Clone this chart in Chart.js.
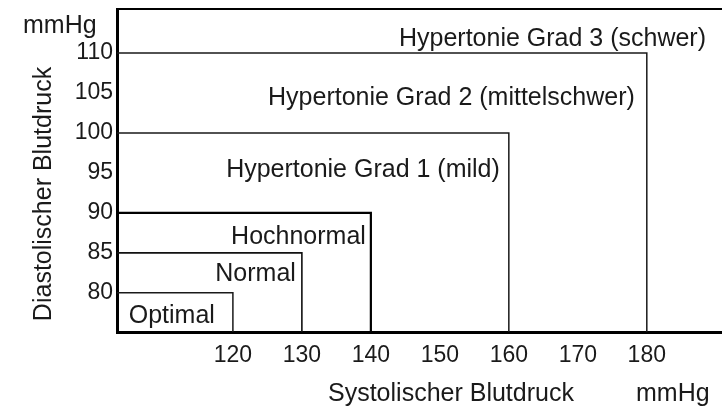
<!DOCTYPE html>
<html>
<head>
<meta charset="utf-8">
<script src="https://cdn.jsdelivr.net/npm/chart.js@4.4.1/dist/chart.umd.min.js"></script>
<style>
  html, body { margin: 0; padding: 0; background: #fff; }
  #wrap { width: 722px; height: 411px; position: relative; }
</style>
</head>
<body>
<div id="wrap"><canvas id="bpChart"></canvas></div>
<script>
// blood pressure classes (upper limits of each class)
const categories = ["Optimal", "Normal", "Hochnormal", "Hypertonie Grad 1 (mild)", "Hypertonie Grad 2 (mittelschwer)", "Hypertonie Grad 3 (schwer)"];
const systolicLimits = [120, 130, 140, 160, 180];
const diastolicLimits = [80, 85, 90, 100, 110];
const xTicks = [120, 130, 140, 150, 160, 170, 180];
const yTicks = [80, 85, 90, 95, 100, 105, 110];

const X_MIN = 103.2, X_MAX = 190.9;
const Y_MIN = 75.1, Y_MAX = 115.5;

const lineColors = ["#1a1a1a", "#111", "#000", "#1a1a1a", "#1a1a1a"];
const lineWidths = [1.5, 1.6, 2.2, 1.5, 1.5];
// text placement inside each region: gap to the right border, vertical nudge
const labelInset = [18, 6, 5, 9, 12, 16];
const labelNudge = [4, 1, 4, -3, 5, 8];
const FONT = "'Liberation Sans', Arial, sans-serif";
const TEXT = "#1a1a1a";

// each class is drawn as a corner line: along the diastolic limit, then down the systolic limit
const datasets = systolicLimits.map((sys, i) => ({
  label: categories[i],
  data: [
    { x: X_MIN, y: diastolicLimits[i] },
    { x: sys, y: diastolicLimits[i] },
    { x: sys, y: Y_MIN }
  ],
  showLine: true,
  borderColor: lineColors[i],
  borderWidth: lineWidths[i],
  pointRadius: 0,
  fill: false
}));

const labelsPlugin = {
  id: "bpLabels",
  afterDatasetsDraw(chart) {
    const { ctx, chartArea, scales } = chart;
    const xs = scales.x, ys = scales.y;
    ctx.save();
    ctx.fillStyle = TEXT;
    ctx.font = "25px " + FONT;

    // frame top line
    ctx.strokeStyle = "#000";
    ctx.lineWidth = 2;
    ctx.beginPath();
    ctx.moveTo(chartArea.left, chartArea.top);
    ctx.lineTo(chartArea.right, chartArea.top);
    ctx.stroke();

    // class names, right aligned inside each region
    ctx.textAlign = "right";
    ctx.textBaseline = "middle";
    categories.forEach((name, i) => {
      const right = i < systolicLimits.length ? xs.getPixelForValue(systolicLimits[i]) : chartArea.right;
      const top = i < diastolicLimits.length ? ys.getPixelForValue(diastolicLimits[i]) : chartArea.top;
      const bottom = i > 0 ? ys.getPixelForValue(diastolicLimits[i - 1]) : chartArea.bottom;
      ctx.fillText(name, right - labelInset[i], (top + bottom) / 2 + labelNudge[i]);
    });

    // axis titles
    ctx.textAlign = "left";
    ctx.textBaseline = "alphabetic";
    ctx.fillText("mmHg", 23, 33);
    ctx.fillText("Systolischer Blutdruck", 328, 401);
    ctx.fillText("mmHg", 636, 401);

    ctx.translate(51, 194);
    ctx.rotate(-Math.PI / 2);
    ctx.textAlign = "center";
    ctx.fillText("Diastolischer Blutdruck", 0, 0);
    ctx.restore();
  }
};

new Chart(document.getElementById("bpChart"), {
  type: "scatter",
  data: { datasets: datasets },
  options: {
    responsive: true,
    maintainAspectRatio: false,
    animation: false,
    layout: { padding: { top: 9, right: 0, left: 0, bottom: 0 } },
    plugins: { legend: { display: false }, tooltip: { enabled: false } },
    scales: {
      x: {
        type: "linear",
        min: X_MIN,
        max: X_MAX,
        afterBuildTicks: s => { s.ticks = xTicks.map(v => ({ value: v })); },
        afterFit: s => { s.height = 79; s.paddingLeft = 0; s.paddingRight = 0; },
        grid: { display: false, drawTicks: false },
        border: { display: true, color: "#000", width: 3 },
        ticks: { color: TEXT, font: { family: FONT, size: 23 }, padding: 10, maxRotation: 0 }
      },
      y: {
        type: "linear",
        min: Y_MIN,
        max: Y_MAX,
        afterBuildTicks: s => { s.ticks = yTicks.map(v => ({ value: v })); },
        afterFit: s => { s.width = 117; s.paddingTop = 0; s.paddingBottom = 0; },
        grid: { display: false, drawTicks: false },
        border: { display: true, color: "#000", width: 3 },
        ticks: { color: TEXT, font: { family: FONT, size: 23 }, padding: 4 }
      }
    }
  },
  plugins: [labelsPlugin]
});
</script>
</body>
</html>
